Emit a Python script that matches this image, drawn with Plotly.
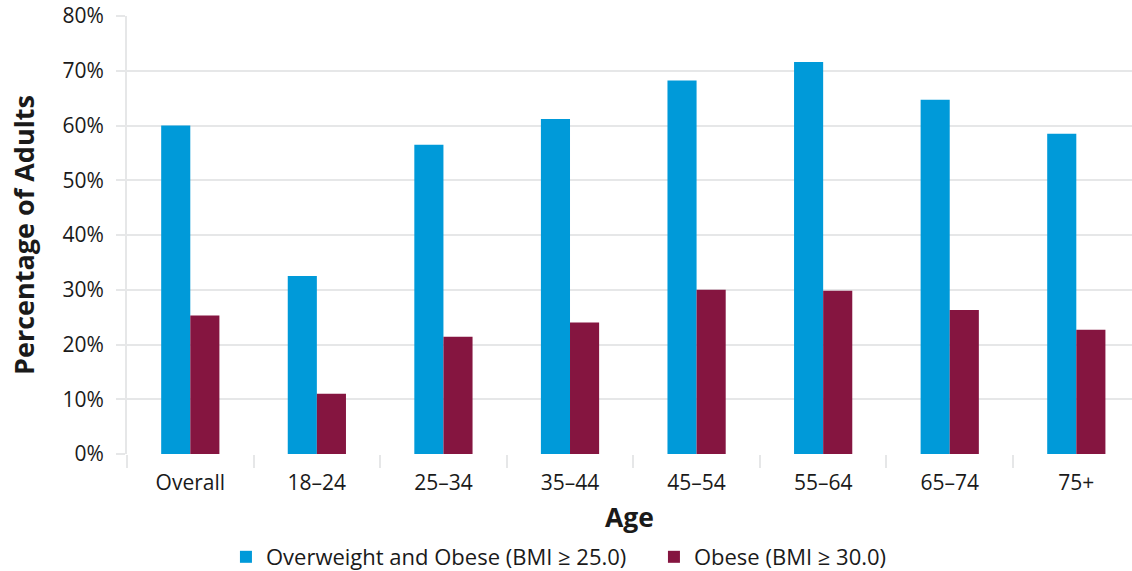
import plotly.graph_objects as go

categories = ["Overall", "18–24", "25–34", "35–44", "45–54", "55–64", "65–74", "75+"]
overweight_obese = [60.0, 32.5, 56.5, 61.2, 68.2, 71.6, 64.7, 58.5]
obese = [25.3, 11.0, 21.4, 24.0, 30.0, 29.8, 26.3, 22.7]
y_ticks = [0, 10, 20, 30, 40, 50, 60, 70, 80]
y_tick_labels = [f"{v}%" for v in y_ticks]

FONT = "Open Sans"
TXT = "#1a1a1a"
GRID = "#e6e7e8"

fig = go.Figure()
fig.add_trace(go.Bar(x=categories, y=overweight_obese, name="Overweight and Obese (BMI ≥ 25.0)",
                     marker=dict(color="#009ad9", line=dict(width=0))))
fig.add_trace(go.Bar(x=categories, y=obese, name="Obese (BMI ≥ 30.0)",
                     marker=dict(color="#851540", line=dict(width=0))))

fig.update_layout(
    width=1132, height=571,
    margin=dict(l=127, r=0, t=16, b=117, autoexpand=False),
    paper_bgcolor="white", plot_bgcolor="white",
    barmode="group", bargap=0.54, bargroupgap=0,
    font=dict(family=FONT, size=21, color=TXT),
    legend=dict(orientation="h", xref="container", yref="container",
                x=0.1996, xanchor="left", y=0.0245, yanchor="middle",
                font=dict(size=22, color=TXT), itemwidth=30, traceorder="normal",
                entrywidth=383, entrywidthmode="pixels"),
    showlegend=True,
)
fig.update_xaxes(
    range=[-0.5, 7.44], type="category", automargin=False,
    showgrid=False, showline=False, zeroline=False,
    ticks="outside", tickson="boundaries", ticklen=13, tickwidth=2, tickcolor=GRID,
    ticklabelstandoff=14,
    tickfont=dict(size=21, color=TXT),
    title=dict(text="<b>Age</b>", font=dict(size=26.5, color=TXT), standoff=13),
)
fig.update_yaxes(
    range=[0, 80], tickvals=y_ticks, ticktext=y_tick_labels, automargin=False,
    showgrid=True, gridcolor=GRID, gridwidth=2,
    showline=True, linecolor=GRID, linewidth=2,
    zeroline=False,
    ticks="outside", ticklen=9, tickwidth=2, tickcolor=GRID, ticklabelstandoff=8,
    tickfont=dict(size=21, color=TXT),
    title=dict(text="<b>Percentage of Adults</b>", font=dict(size=27, color=TXT), standoff=20),
)

fig.write_html(
    "out.html",
    config={"displayModeBar": False},
    post_script="document.body.style.margin='0';document.body.style.overflow='hidden';",
)
